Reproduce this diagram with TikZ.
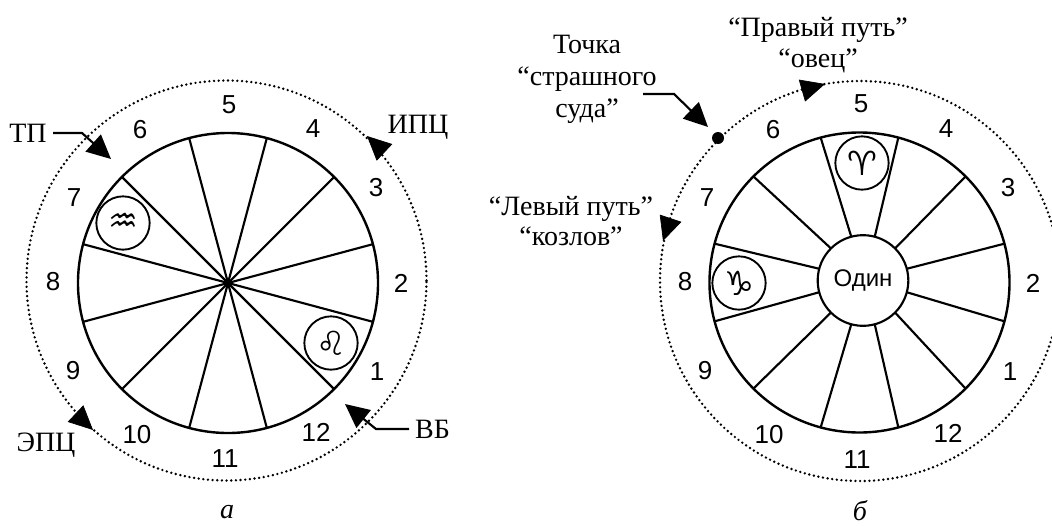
\documentclass[tikz,border=0pt]{standalone}
\usepackage{fontspec}
\setmainfont{Liberation Serif}
\setsansfont{Liberation Sans}
\newfontfamily\signfont{DejaVu Sans}
\usetikzlibrary{arrows.meta}
\tikzset{
  wheel/.style={circle,draw,line width=1.8pt,minimum size=225pt,inner sep=0pt,outer sep=0pt},
  hub/.style={circle,draw,line width=1.6pt,minimum size=68pt,inner sep=0pt,outer sep=0pt,font=\sffamily\fontsize{18}{20}\selectfont},
  sign/.style={circle,draw,line width=1.4pt,minimum size=40pt,inner sep=0pt,font=\signfont\fontsize{25}{26}\selectfont},
  path ring/.style={circle,draw,line width=2pt,line cap=round,dash pattern=on 0pt off 3.5pt,minimum size=300pt,inner sep=0pt,outer sep=0pt},
  spoke/.style={line width=1.6pt},
  number/.style={font=\sffamily\fontsize{19.5}{20}\selectfont,inner sep=0pt},
  caption/.style={font=\fontsize{21}{23}\selectfont,inner sep=0pt,align=center},
  leader/.style={line width=1.6pt,-{Triangle[length=18pt,width=17pt]}},
  head/.style={-{Triangle[length=18pt,width=17pt]},line width=0.5pt}
}
\begin{document}
\begin{tikzpicture}[x=0.75pt,y=-0.75pt]
  \useasboundingbox (0,0) rectangle (1052,525);

  % Panel a
  \node[path ring] (ringA) at (226.5,280.5) {};
  \node[wheel] (wheelA) at (228,283) {};
  \foreach \ang in {15,45,...,165}
    \draw[spoke] (wheelA.\ang) -- (wheelA.\ang+180);
  \foreach \n/\x/\y in {1/377/372,2/401/283,3/376/188,4/313/129,5/229/105,6/140/130,
                        7/74/198,8/53/282,9/73/371,10/137/435,11/225/459,12/316/432}
    \node[number] (A-\n) at (\x,\y) {\n};
  \node[sign] (aquarius) at (123,223) {♒};
  \node[sign] (leo) at (331,343) {♌};

  % Panel a labels
  \node[caption] (tp) at (28,133) {ТП};
  \node[caption] (ipc) at (418,127) {ИПЦ};
  \node[caption] (epc) at (46,445) {ЭПЦ};
  \node[caption] (vb) at (432.5,429) {ВБ};
  \node[caption,font=\itshape\fontsize{21}{23}\selectfont] (capA) at (227,512) {а};

  % Panel a arrows
  \coordinate (tpStart) at (53,133);
  \coordinate (tpBend) at (82,133);
  \coordinate (tpTip) at (111,159);
  \draw[leader] (tpStart) -- (tpBend) -- (tpTip);
  \coordinate (vbStart) at (409,429);
  \coordinate (vbBend) at (376,429);
  \coordinate (vbTip) at (345,404);
  \draw[leader] (vbStart) -- (vbBend) -- (vbTip);
  \coordinate (ipcBase) at (383,151);
  \coordinate (ipcTip) at (367,136);
  \draw[head] (ipcBase) -- (ipcTip);
  \coordinate (epcBase) at (76,414);
  \coordinate (epcTip) at (93,430);
  \draw[head] (epcBase) -- (epcTip);

  % Panel b
  \node[path ring] (ringB) at (860,281) {};
  \node[wheel] (wheelB) at (859.5,282.5) {};
  \node[hub,fill=white] (hubB) at (863,280.5) {Один};
  \foreach \ang in {15,45,...,345}
    \draw[spoke] (hubB.\ang) -- (wheelB.\ang);
  \foreach \n/\x/\y in {1/1010/372,2/1033/283,3/1008/188,4/946/129,5/861/104,6/773/130,
                        7/707/198,8/685/282,9/705/371,10/769/435,11/857/460,12/948/433}
    \node[number] (B-\n) at (\x,\y) {\n};
  \node[sign] (aries) at (862,163) {♈};
  \node[sign] (capricorn) at (739,283) {♑};

  % Panel b labels
  \node[caption,font=\fontsize{21}{24}\selectfont] (judgement) at (587,79.5) {Точка\\“страшного\\суда”};
  \node[caption] (right) at (818,45) {“Правый путь”\\“овец”};
  \node[caption] (left) at (571,221) {“Левый путь”\\“козлов”};
  \node[caption,font=\itshape\fontsize{21}{23}\selectfont] (capB) at (860,511) {б};

  % Panel b arrows
  \node[circle,fill,minimum size=9pt,inner sep=0pt] (dot) at (718,138) {};
  \coordinate (judgeStart) at (643,94);
  \coordinate (judgeBend) at (674,94);
  \coordinate (judgeTip) at (708,127);
  \draw[leader] (judgeStart) -- (judgeBend) -- (judgeTip);
  \coordinate (rightBase) at (804,90);
  \coordinate (rightTip) at (825,84);
  \draw[head] (rightBase) -- (rightTip);
  \coordinate (leftBase) at (670,220);
  \coordinate (leftTip) at (663,241);
  \draw[head] (leftBase) -- (leftTip);
\end{tikzpicture}
\end{document}
